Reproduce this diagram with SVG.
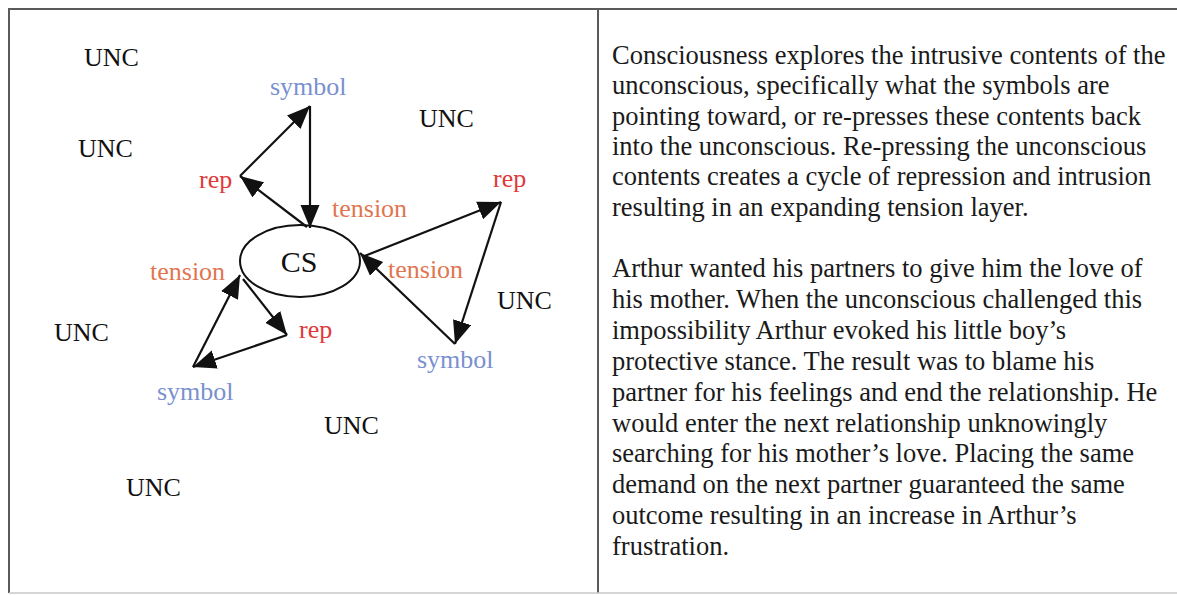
<svg xmlns="http://www.w3.org/2000/svg" width="1177" height="595" viewBox="0 0 1177 595">
  <style>
    .frame { stroke: #5a5a5a; stroke-width: 2; fill: none; }
    .frame-faint { stroke: #c8c8c8; stroke-width: 1.5; fill: none; }
    .lbl { font-family: "Liberation Serif", "Times New Roman", serif; font-size: 26px; }
    .unc { fill: #111; }
    .sym { fill: #7a90cf; }
    .rep { fill: #df3a3a; }
    .ten { fill: #df7650; }
    .cs  { font-family: "Liberation Serif", "Times New Roman", serif; font-size: 30px; fill: #111; }
    .edge { stroke: #111; stroke-width: 2.2; fill: none; marker-end: url(#head); }
    .body { font-family: "Liberation Serif", "Times New Roman", serif; font-size: 26.5px; fill: #1a1a1a; }
  </style>
  <defs>
    <marker id="head" markerUnits="userSpaceOnUse" markerWidth="25" markerHeight="20" refX="23" refY="9.5" orient="auto">
      <path d="M0,0 L23,9.5 L0,19 z" fill="#111"/>
    </marker>
  </defs>

  <rect width="1177" height="595" fill="#ffffff"/>

  <!-- table frame -->
  <g id="table">
    <line class="frame" x1="8" y1="9" x2="1177" y2="9"/>
    <line class="frame" x1="9" y1="9" x2="9" y2="593"/>
    <line class="frame" x1="598" y1="9" x2="598" y2="593"/>
    <line class="frame-faint" x1="9" y1="593" x2="1177" y2="593"/>
  </g>

  <!-- unconscious field -->
  <g id="unc-labels" class="lbl unc">
    <text x="84" y="66">UNC</text>
    <text x="78" y="157">UNC</text>
    <text x="419" y="127">UNC</text>
    <text x="497" y="309">UNC</text>
    <text x="54" y="341">UNC</text>
    <text x="324" y="434">UNC</text>
    <text x="126" y="496">UNC</text>
  </g>

  <!-- consciousness -->
  <g id="cs">
    <ellipse cx="300" cy="261" rx="60" ry="36" fill="#fff" stroke="#111" stroke-width="2"/>
    <text class="cs" x="299" y="272" text-anchor="middle">CS</text>
  </g>

  <g id="symbol-top"><text class="lbl sym" x="270" y="95">symbol</text></g>
  <g id="rep-top"><text class="lbl rep" x="199" y="188">rep</text></g>
  <g id="tension-top"><text class="lbl ten" x="332" y="217">tension</text></g>

  <g id="symbol-right"><text class="lbl sym" x="417" y="368">symbol</text></g>
  <g id="rep-right"><text class="lbl rep" x="493" y="187">rep</text></g>
  <g id="tension-right"><text class="lbl ten" x="388" y="278">tension</text></g>

  <g id="symbol-left"><text class="lbl sym" x="157" y="400">symbol</text></g>
  <g id="rep-bottom"><text class="lbl rep" x="299" y="338">rep</text></g>
  <g id="tension-left"><text class="lbl ten" x="150" y="280">tension</text></g>

  <!-- repression / intrusion cycles -->
  <g id="connectors">
    <line class="edge" x1="310" y1="106" x2="310" y2="228"/>
    <line class="edge" x1="307" y1="227" x2="240" y2="176"/>
    <line class="edge" x1="240" y1="176" x2="310" y2="106"/>

    <line class="edge" x1="362" y1="257" x2="501" y2="202"/>
    <line class="edge" x1="501" y1="202" x2="455" y2="344"/>
    <line class="edge" x1="455" y1="344" x2="360" y2="253"/>

    <line class="edge" x1="193" y1="367" x2="240" y2="275"/>
    <line class="edge" x1="243" y1="279" x2="287" y2="335"/>
    <line class="edge" x1="287" y1="335" x2="193" y2="367"/>
  </g>

  <!-- commentary -->
  <g id="commentary" class="body">
    <text x="612" y="64">Consciousness explores the intrusive contents of the</text>
    <text x="612" y="94.3">unconscious, specifically what the symbols are</text>
    <text x="612" y="124.6">pointing toward, or re-presses these contents back</text>
    <text x="612" y="154.9">into the unconscious. Re-pressing the unconscious</text>
    <text x="612" y="185.2">contents creates a cycle of repression and intrusion</text>
    <text x="612" y="215.5">resulting in an expanding tension layer.</text>

    <text x="612" y="277">Arthur wanted his partners to give him the love of</text>
    <text x="612" y="307.9">his mother. When the unconscious challenged this</text>
    <text x="612" y="338.8">impossibility Arthur evoked his little boy’s</text>
    <text x="612" y="369.7">protective stance. The result was to blame his</text>
    <text x="612" y="400.6">partner for his feelings and end the relationship. He</text>
    <text x="612" y="431.5">would enter the next relationship unknowingly</text>
    <text x="612" y="462.4">searching for his mother’s love. Placing the same</text>
    <text x="612" y="493.3">demand on the next partner guaranteed the same</text>
    <text x="612" y="524.2">outcome resulting in an increase in Arthur’s</text>
    <text x="612" y="555.1">frustration.</text>
  </g>
</svg>
